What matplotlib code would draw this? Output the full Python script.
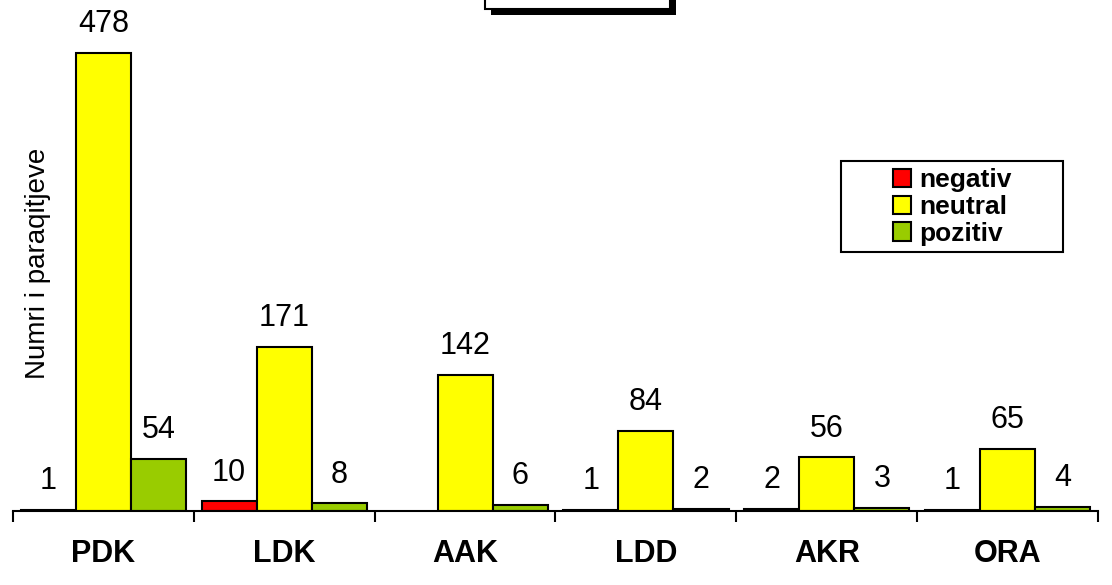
import matplotlib
matplotlib.use("Agg")
import matplotlib.pyplot as plt
import numpy as np
from matplotlib.patches import Rectangle, Patch

plt.rcParams['font.family'] = ['Liberation Sans', 'DejaVu Sans']

categories = ["PDK", "LDK", "AAK", "LDD", "AKR", "ORA"]
series_names = ["negativ", "neutral", "pozitiv"]
negativ = [1, 10, None, 1, 2, 1]
neutral = [478, 171, 142, 84, 56, 65]
pozitiv = [54, 8, 6, 2, 3, 4]
colors = ["#FF0000", "#FFFF00", "#99CC00"]

W, H = 1112, 585
fig = plt.figure(figsize=(W / 100, H / 100), dpi=100)
ax = fig.add_axes([13 / W, 74 / H, 1085 / W, 511 / H])

x = np.arange(len(categories))
w = 0.305
for i, (vals, col) in enumerate(zip([negativ, neutral, pozitiv], colors)):
    off = (i - 1) * w
    for xi, v in zip(x, vals):
        if v is None:
            continue
        ax.bar(xi + off, v, width=w, color=col, edgecolor="black", linewidth=1.5)
        ax.annotate(str(v), (xi + off, v), xytext=(0, 15), textcoords="offset points",
                    ha="center", va="baseline", fontsize=22)

ax.set_xlim(-0.5, len(categories) - 0.5)
ax.set_ylim(0, 511 / 0.958)
for s in ["left", "right", "top"]:
    ax.spines[s].set_visible(False)
ax.spines["bottom"].set_linewidth(1.5)
ax.set_yticks([])
ax.set_xticks(np.arange(len(categories) + 1) - 0.5)
ax.set_xticklabels([])
ax.tick_params(axis="x", which="major", length=8, width=1.5, direction="out")
ax.set_xticks(x, minor=True)
ax.set_xticklabels(categories, minor=True, fontsize=22, fontweight="bold")
ax.tick_params(axis="x", which="minor", length=0, pad=20)

fig.text(38 / W, 1 - 263 / H, "Numri i paraqitjeve", rotation=90, ha="center",
         va="center", fontsize=20)

# legend frame
fig.patches.append(Rectangle((841 / W, 1 - 252 / H), 222 / W, 91 / H,
                             transform=fig.transFigure, facecolor="white",
                             edgecolor="black", linewidth=1.5, zorder=5))
handles = [Patch(facecolor=c, edgecolor="black", linewidth=1.5) for c in colors]
leg = fig.legend(handles, series_names, loc="center", bbox_to_anchor=(952 / W, 1 - 207 / H),
                 frameon=False, prop={"weight": "bold", "size": 19},
                 handlelength=0.7, handleheight=0.7, handletextpad=0.3,
                 labelspacing=0.1, borderpad=0)
leg.set_zorder(6)

# title box (cut off at top) with shadow
fig.patches.append(Rectangle((491 / W, 1 - 15 / H), 185 / W, 40 / H,
                             transform=fig.transFigure, facecolor="black",
                             edgecolor="none", zorder=5))
fig.patches.append(Rectangle((485 / W, 1 - 9 / H), 185 / W, 40 / H,
                             transform=fig.transFigure, facecolor="white",
                             edgecolor="black", linewidth=1.5, zorder=6))

fig.savefig("out.png", dpi=100)
